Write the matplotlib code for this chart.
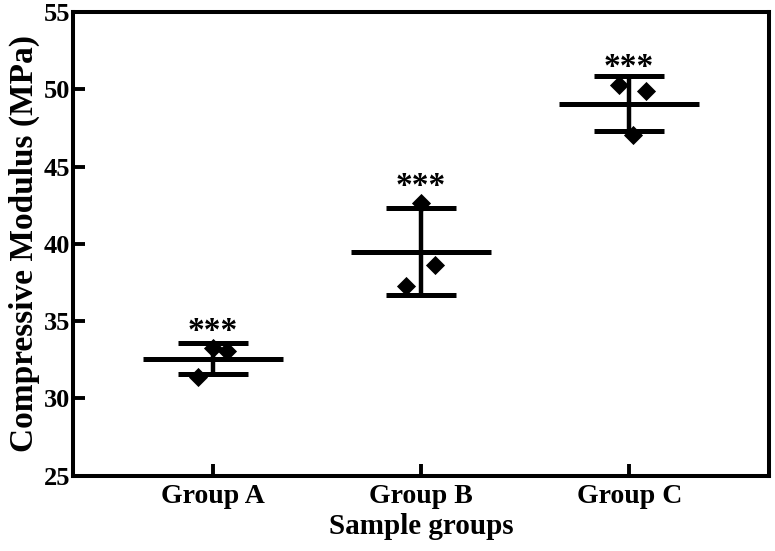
import numpy as np
import matplotlib
matplotlib.use("Agg")
import matplotlib.pyplot as plt

categories = ["Group A", "Group B", "Group C"]
group_a = [31.4, 33.25, 33.05]
group_b = [42.65, 38.6, 37.25]
group_c = [50.3, 49.9, 47.05]
jitter = [-0.07, 0.0, 0.07]
jitter_b = [0.0, 0.07, -0.07]
jitter_c = [-0.05, 0.08, 0.02]
significance = ["***", "***", "***"]
yticks = [25, 30, 35, 40, 45, 50, 55]

plt.rcParams['font.family'] = ['Liberation Serif', 'DejaVu Serif']
plt.rcParams['font.weight'] = 'bold'

fig = plt.figure(figsize=(7.75, 5.51), dpi=100)
ax = fig.add_axes([0.0942, 0.137, 0.8978, 0.841])

groups = [group_a, group_b, group_c]
jits = [jitter, jitter_b, jitter_c]
xs = np.arange(1, len(categories) + 1)
for x, vals, jit, sig in zip(xs, groups, jits, significance):
    vals = np.array(vals)
    m = vals.mean()
    sd = vals.std(ddof=1)
    ax.hlines(m, x - 0.336, x + 0.336, color='black', lw=3.6, zorder=2)
    ax.errorbar(x, m, yerr=sd, fmt='none', ecolor='black', elinewidth=3.2,
                capsize=25, capthick=3.6, zorder=2)
    ax.scatter(x + np.array(jit), vals, marker='D', s=95, color='black', zorder=3,
               linewidths=0)
    ax.annotate(sig, (x, vals.max()), xytext=(0, 6), textcoords='offset points',
                ha='center', va='baseline', fontsize=24, fontweight='bold')

ax.set_xlim(0.33, 3.67)
ax.set_ylim(25, 55)
ax.set_yticks(yticks)
ax.set_xticks(xs)
ax.set_xticklabels(categories)
ax.tick_params(direction='in', length=8.5, width=2.8, pad=6)
ax.tick_params(axis='x', labelsize=20, pad=6)
ax.tick_params(axis='y', labelsize=19, pad=2)
for lab in ax.get_xticklabels() + ax.get_yticklabels():
    lab.set_fontweight('bold')
for s in ax.spines.values():
    s.set_linewidth(2.9)
ax.set_xlabel("Sample groups", fontsize=21, fontweight='bold', labelpad=3)
ax.set_ylabel("Compressive Modulus (MPa)", fontsize=24, fontweight='bold', labelpad=3)

fig.savefig("out.png", dpi=100)
